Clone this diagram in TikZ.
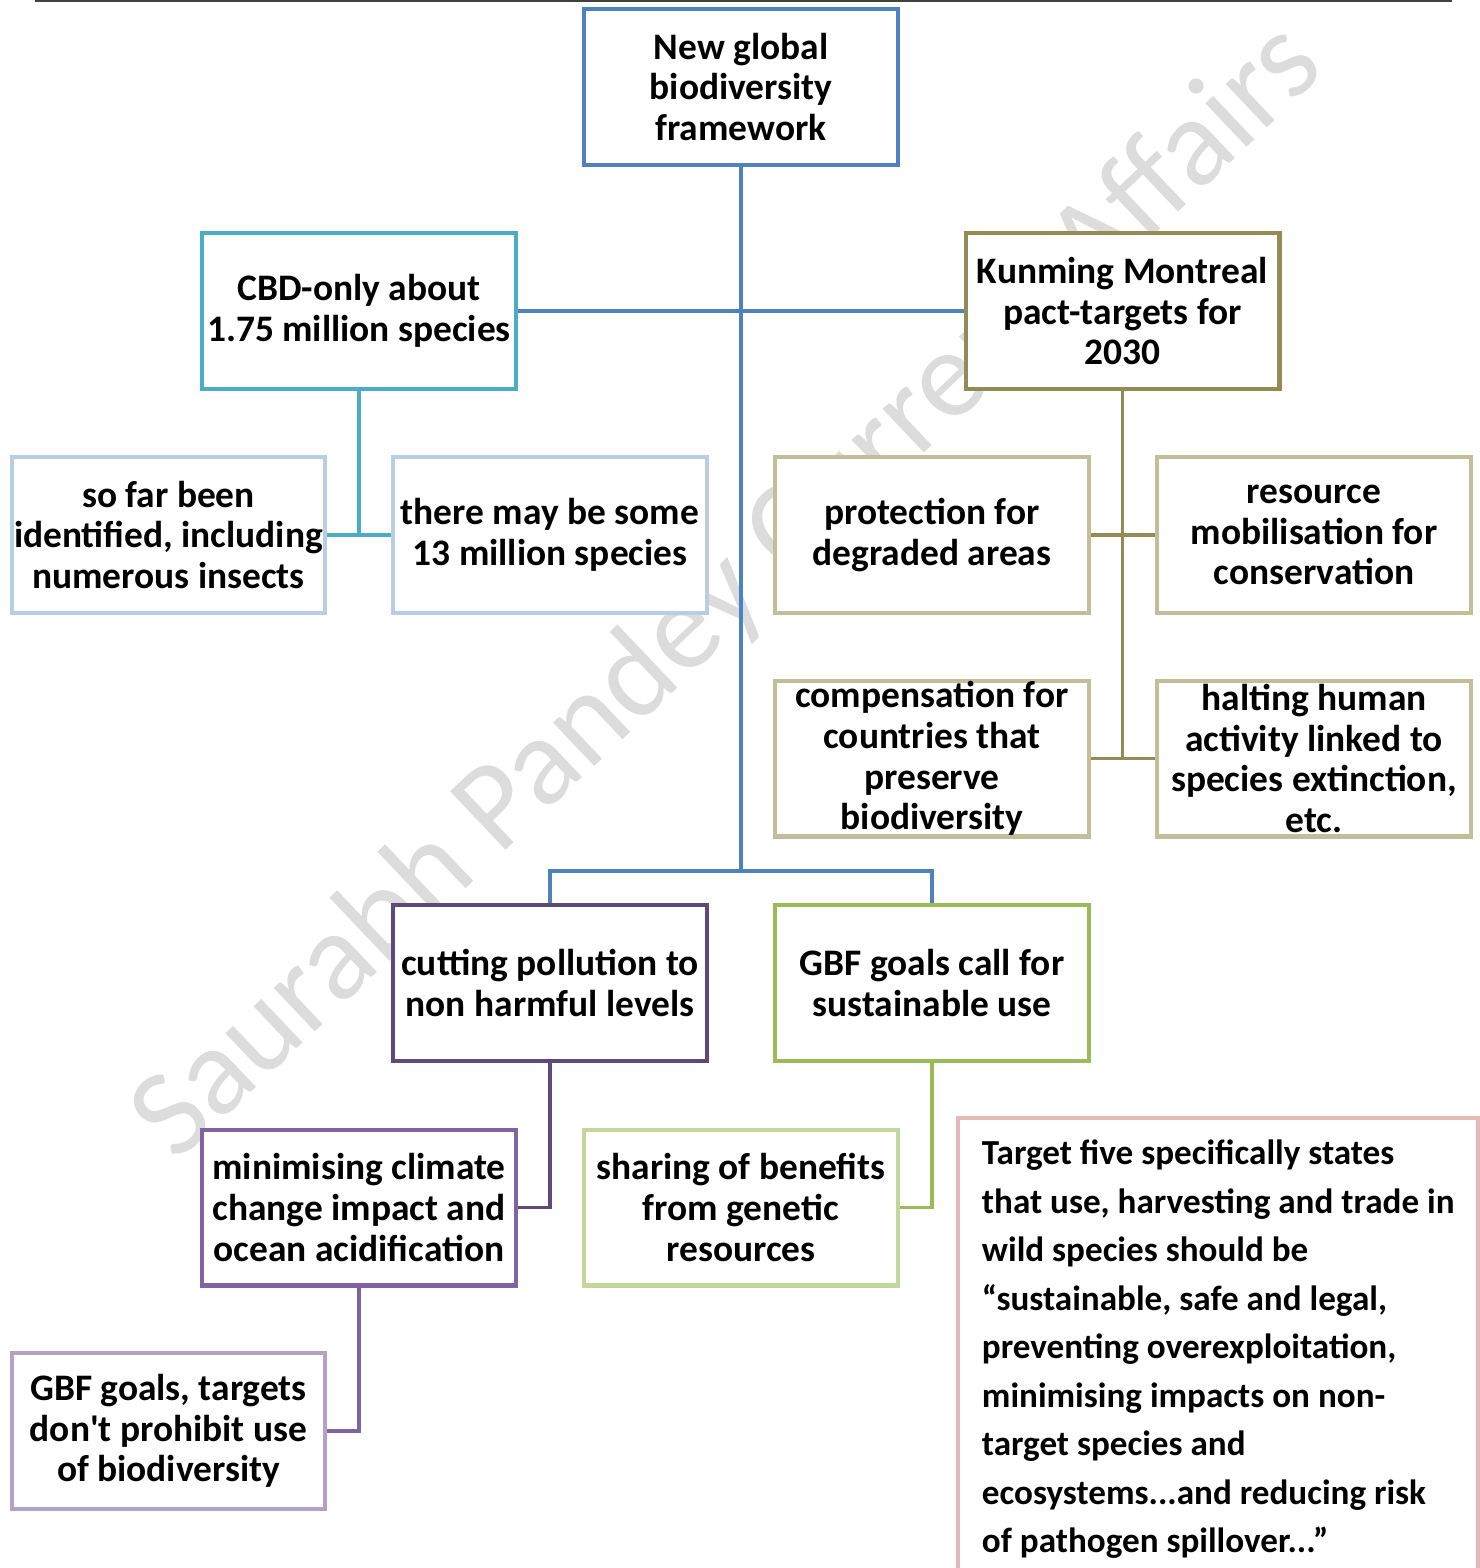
\documentclass[tikz,border=0pt]{standalone}
\usepackage{fontspec}
\setmainfont{Carlito}
\definecolor{GBFBlue}{HTML}{4F81BD}
\definecolor{GBFTeal}{HTML}{4BACC6}
\definecolor{GBFSky}{HTML}{B9CDE5}
\definecolor{GBFOlive}{HTML}{948A54}
\definecolor{GBFTan}{HTML}{C4BD97}
\definecolor{GBFPlum}{HTML}{5F497A}
\definecolor{GBFPurple}{HTML}{8064A2}
\definecolor{GBFLilac}{HTML}{B3A2C7}
\definecolor{GBFGreen}{HTML}{9BBB59}
\definecolor{GBFMint}{HTML}{C3D69B}
\definecolor{GBFPink}{HTML}{E6B9B8}
\definecolor{GBFMark}{HTML}{DCDCDC}

\begin{document}
\begin{tikzpicture}[x=0.02cm,y=-0.02cm,line width=2.2pt,line join=miter,
  box/.style={draw=#1,fill=white,line width=2.3pt,minimum width=6.28cm,minimum height=3.12cm,
    inner sep=0pt,align=center,font=\fontsize{21.3}{23.2}\selectfont\bfseries},
  link/.style={draw=#1,line width=2.2pt}]
  \useasboundingbox (0,0) rectangle (1480,1568);

  \node[rotate=43.5,text=GBFMark,font=\fontsize{71.5}{80}\selectfont] (mark) at (729,593)
    {Saurabh Pandey Current Affairs};
  \draw[line width=1.2pt,draw=black!75] (35,1) -- (1452,1);

  \node[box=GBFBlue] (root) at (741,87) {New global\\biodiversity\\framework};
  \node[box=GBFTeal] (cbd) at (359,311) {CBD-only about\\1.75 million species};
  \node[box=GBFOlive] (kmp) at (1122.5,311) {Kunming Montreal\\pact-targets for\\2030};
  \node[box=GBFSky] (sofar) at (168.5,535) {so far been\\identified, including\\numerous insects};
  \node[box=GBFSky] (some) at (550,535) {there may be some\\13 million species};
  \node[box=GBFTan] (protect) at (932,535) {protection for\\degraded areas};
  \node[box=GBFTan] (resource) at (1314,535) {resource\\mobilisation for\\conservation};
  \node[box=GBFTan] (compens) at (932,758.5) {compensation for\\countries that\\preserve\\biodiversity};
  \node[box=GBFTan] (halting) at (1314,758.5) {halting human\\activity linked to\\species extinction,\\etc.};
  \node[box=GBFPlum] (cutting) at (550,983) {cutting pollution to\\non harmful levels};
  \node[box=GBFGreen] (sustain) at (932,983) {GBF goals call for\\sustainable use};
  \node[box=GBFPurple] (climate) at (359,1207.5) {minimising climate\\change impact and\\ocean acidification};
  \node[box=GBFMint] (sharing) at (741,1207.5) {sharing of benefits\\from genetic\\resources};
  \node[box=GBFLilac] (prohibit) at (168.5,1431) {GBF goals, targets\\don\textquotesingle t prohibit use\\of biodiversity};

  \coordinate (fork) at (741,871);
  \draw[link=GBFBlue] (cbd.east) -- (kmp.west);
  \draw[link=GBFBlue] (root.south) -- (fork);
  \draw[link=GBFBlue] (cutting.north) |- (fork) -| (sustain.north);
  \draw[link=GBFTeal] (cbd.south) |- (sofar.east);
  \draw[link=GBFTeal] (cbd.south) |- (some.west);
  \draw[link=GBFOlive] (kmp.south) |- (protect.east);
  \draw[link=GBFOlive] (kmp.south) |- (resource.west);
  \draw[link=GBFOlive] (kmp.south) |- (compens.east);
  \draw[link=GBFOlive] (kmp.south) |- (halting.west);
  \draw[link=GBFPlum] (cutting.south) |- (climate.east);
  \draw[link=GBFGreen] (sustain.south) |- (sharing.east);
  \draw[link=GBFPurple] (climate.south) |- (prohibit.east);

  \node[fill=white,minimum width=10.32cm,minimum height=9.4cm,inner sep=0pt,anchor=north west]
    (notebox) at (958,1118) {};
  \draw[line width=2.3pt,draw=GBFPink] (notebox.south west) -- (notebox.north west)
    -- (notebox.north east) -- (notebox.south east);
  \node[anchor=north west,inner sep=0pt,align=left,font=\fontsize{20}{27.6}\selectfont\bfseries]
    (note) at (980,1138) {Target five specifically states\\that use, harvesting and trade in\\wild species should be\\“sustainable, safe and legal,\\preventing overexploitation,\\minimising impacts on non-\\target species and\\ecosystems...and reducing risk\\of pathogen spillover...”};
\end{tikzpicture}
\end{document}
